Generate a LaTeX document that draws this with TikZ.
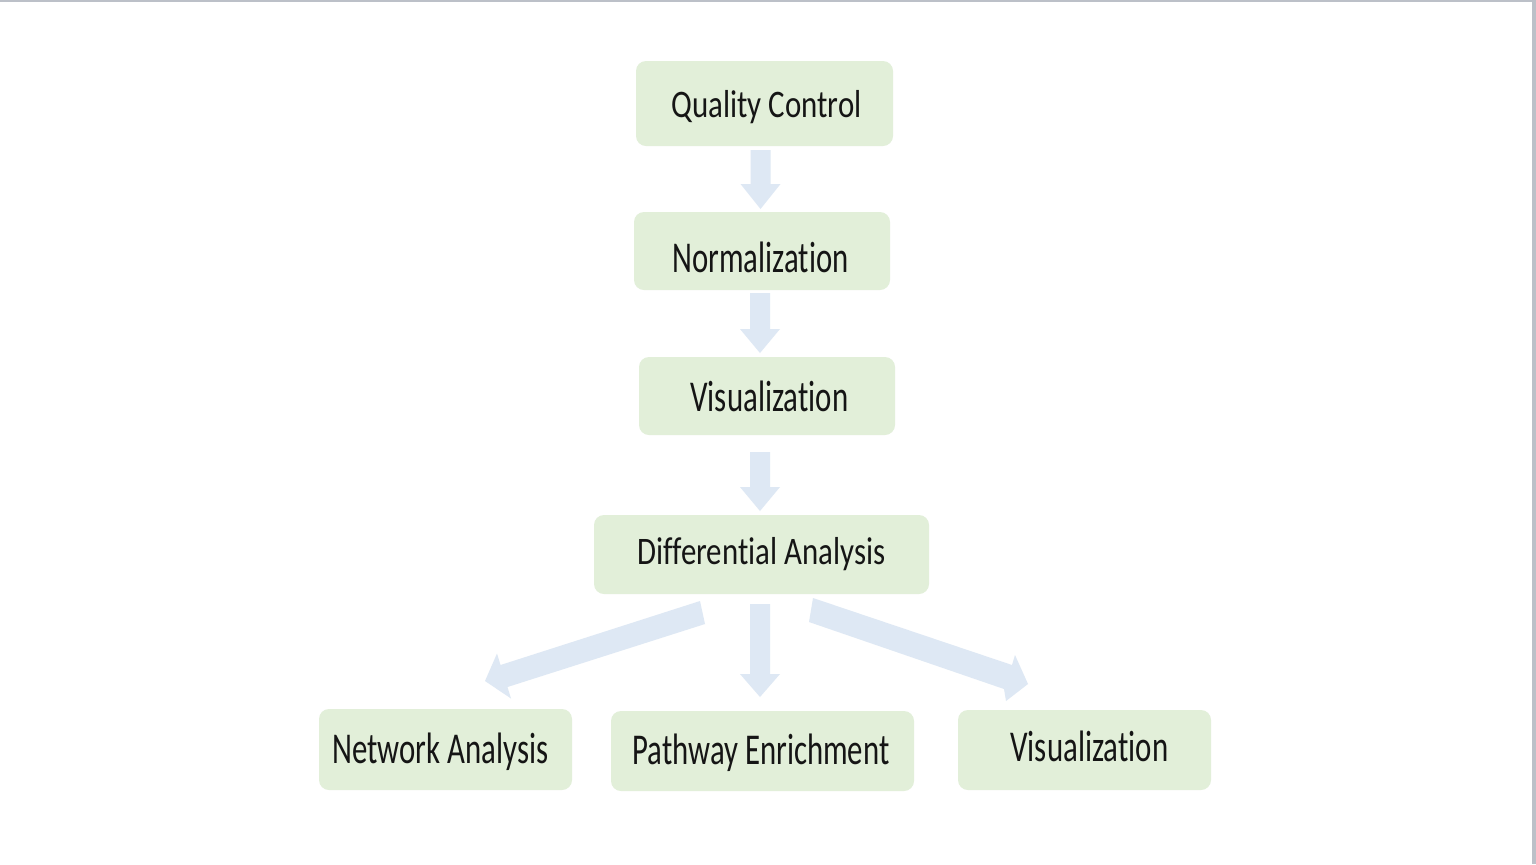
\documentclass[tikz,border=0pt]{standalone}
\usepackage{fontspec}
\setmainfont{Carlito}[RawFeature={-liga;-clig}]
\usepackage{graphicx}
\definecolor{boxfill}{HTML}{E2EFD9}
\definecolor{arrowfill}{HTML}{DEE8F4}
\definecolor{edgegray}{HTML}{BCC0C8}
\definecolor{txt}{HTML}{151515}
\newcommand\fitw[2]{\resizebox{#1}{\height}{#2}}
\tikzset{
  box/.style={fill=boxfill, rounded corners=5pt, inner sep=0pt},
  lbl/.style={anchor=base west, inner sep=0pt, text=txt, font=\fontsize{22pt}{26pt}\selectfont},
  lblsmall/.style={lbl, font=\fontsize{19.5pt}{23pt}\selectfont},
  blockarrow/.style={fill=arrowfill}
}
\begin{document}
\begin{tikzpicture}[x=0.5pt,y=-0.5pt]
\useasboundingbox (0,0) rectangle (1536,864);
\fill[white] (0,0) rectangle (1536,864);
% frame edges
\fill[edgegray] (0,0) rectangle (1536,1.5);
\fill[edgegray] (1532,0) rectangle (1536,864);
% boxes
\node[box, minimum width=128.5pt, minimum height=42.5pt] (qc) at (764.5,103.5) {};
\node[box, minimum width=128pt, minimum height=39pt] (norm) at (762,251) {};
\node[box, minimum width=128pt, minimum height=39pt] (vis) at (767,396) {};
\node[box, minimum width=167.5pt, minimum height=39.5pt] (diff) at (761.5,554.5) {};
\node[box, minimum width=126.5pt, minimum height=40.5pt] (net) at (445.5,749.5) {};
\node[box, minimum width=151.5pt, minimum height=40pt] (path) at (762.5,751) {};
\node[box, minimum width=126.5pt, minimum height=40pt] (vis2) at (1084.5,750) {};
% labels
\node[lblsmall] (qcl) at (671,117) {\fitw{95pt}{Quality Control}};
\node[lbl] (norml) at (672,272) {\fitw{88pt}{Normalization}};
\node[lbl] (visl) at (690,411) {\fitw{79pt}{Visualization}};
\node[lblsmall] (diffl) at (637,564) {\fitw{124pt}{Differential Analysis}};
\node[lbl] (netl) at (332,763) {\fitw{108pt}{Network Analysis}};
\node[lbl] (pathl) at (632,764) {\fitw{128.5pt}{Pathway Enrichment}};
\node[lbl] (vis2l) at (1010,761) {\fitw{79pt}{Visualization}};
% vertical block arrows
\fill[blockarrow] (750.5,150) -- (770.5,150) -- (770.5,184) -- (780.5,184) -- (760.5,209) -- (740.5,184) -- (750.5,184) -- cycle;
\fill[blockarrow] (750,293) -- (770,293) -- (770,329) -- (780,329) -- (760,353) -- (740,329) -- (750,329) -- cycle;
\fill[blockarrow] (750,452) -- (770,452) -- (770,487) -- (780,487) -- (760,511) -- (740,487) -- (750,487) -- cycle;
\fill[blockarrow] (750,604) -- (770,604) -- (770,674) -- (780,674) -- (760,697) -- (740,674) -- (750,674) -- cycle;
% diagonal block arrows
\fill[blockarrow] (700,601) -- (705,624) -- (507.5,687) -- (511,698.5) -- (485,681) -- (497,653.5) -- (500.5,665) -- cycle;
\fill[blockarrow] (813,598) -- (1012,665) -- (1015,655) -- (1028,684) -- (1006,701) -- (1004,689) -- (809,622) -- cycle;
\end{tikzpicture}
\end{document}
